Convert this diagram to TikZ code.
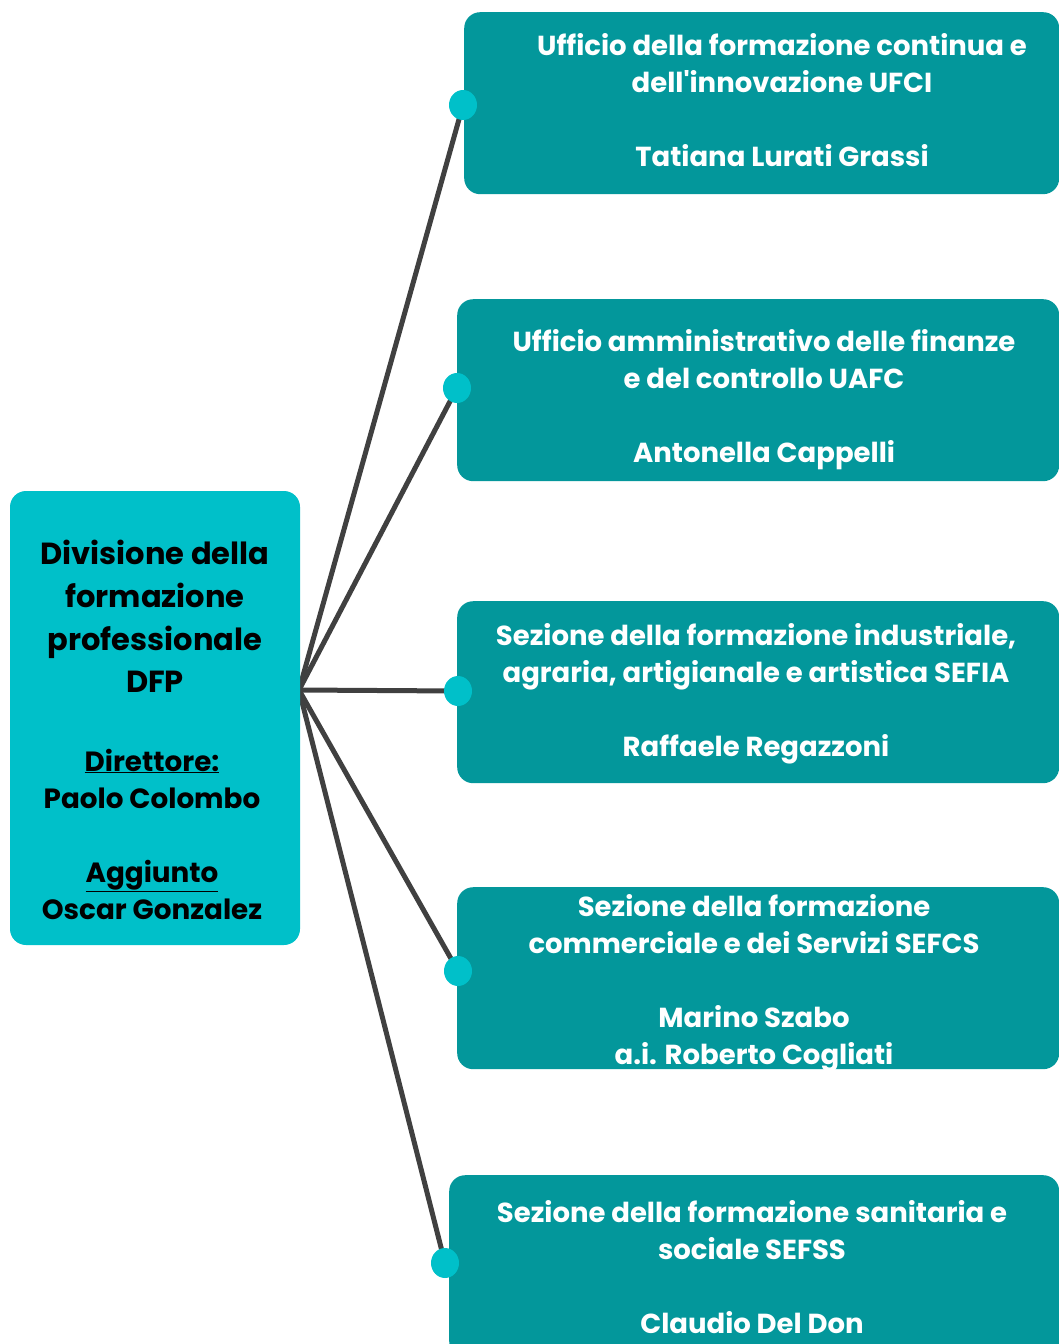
\documentclass[tikz,border=0pt]{standalone}
\usepackage{fontspec}
\newfontfamily\popfont{Poppins}
\usetikzlibrary{shapes.geometric,backgrounds}
\definecolor{cyanbox}{HTML}{00C0C9}
\definecolor{tealbox}{HTML}{03979B}
\definecolor{linegray}{HTML}{404040}
\tikzset{
  mainbox/.style={draw=none,fill=cyanbox,rounded corners=16pt,inner sep=0pt},
  unitbox/.style={draw=none,fill=tealbox,rounded corners=16pt,inner sep=0pt,minimum width=620pt,minimum height=182pt,anchor=north west},
  dot/.style={ellipse,fill=cyanbox,draw=none,minimum width=28pt,minimum height=30pt,inner sep=0pt},
  conn/.style={draw=linegray,line width=5pt},
  unittext/.style={text=white,font=\popfont\bfseries\fontsize{27.5}{37}\selectfont,align=center,inner sep=0pt},
  titletext/.style={text=black,font=\popfont\bfseries\fontsize{30.5}{42.7}\selectfont,align=center,inner sep=0pt},
  nametext/.style={text=black,font=\popfont\bfseries\fontsize{27.8}{37}\selectfont,align=center,inner sep=0pt}
}
\begin{document}
\begin{tikzpicture}[x=1pt,y=-1pt]
\useasboundingbox (0,0) rectangle (1059,1344);
\clip (0,0) rectangle (1059,1344);
% main box
\node[mainbox,minimum width=290pt,minimum height=454pt] (main) at (155,718) {};
\node[titletext] (maintitle) at (155,616.5) {Divisione della\\formazione\\professionale\\DFP};
\node[nametext] (mainnames) at (152,834) {\underline{Direttore:}\\Paolo Colombo\\[37pt]\underline{Aggiunto}\\Oscar Gonzalez};
% unit boxes
\node[unitbox,minimum width=595pt] (b1) at (464,12) {};
\node[unitbox,minimum width=602pt] (b2) at (457,299) {};
\node[unitbox,minimum width=602pt] (b3) at (457,601) {};
\node[unitbox,minimum width=602pt] (b4) at (457,887) {};
\node[unitbox,minimum width=610pt] (b5) at (449,1175) {};
% texts
\node[unittext] (t1) at (782,100) {Ufficio della formazione continua e\\dell'innovazione UFCI\\[37pt]Tatiana Lurati Grassi};
\node[unittext] (t2) at (764,399.5) {Ufficio amministrativo delle finanze\\e del controllo UAFC\\[37pt]Antonella Cappelli};
\node[unittext] (t3) at (756,694) {Sezione della formazione industriale,\\agraria, artigianale e artistica SEFIA\\[37pt]Raffaele Regazzoni};
\node[unittext] (t4) at (754,983.5) {Sezione della formazione\\commerciale e dei Servizi SEFCS\\[37pt]Marino Szabo\\a.i. Roberto Cogliati};
\node[unittext] (t5) at (752,1267.5) {Sezione della formazione sanitaria e\\sociale SEFSS\\[37pt]Claudio Del Don};
% dots
\node[dot] (d1) at (463,105) {};
\node[dot] (d2) at (457,388) {};
\node[dot] (d3) at (458,691) {};
\node[dot] (d4) at (458,971) {};
\node[dot] (d5) at (445,1263) {};
\coordinate (hub) at (299,690);
\begin{scope}[on background layer]
\draw[conn] (hub) -- (d1.center);
\draw[conn] (hub) -- (d2.center);
\draw[conn] (hub) -- (d3.center);
\draw[conn] (hub) -- (d4.center);
\draw[conn] (hub) -- (d5.center);
\end{scope}
\end{tikzpicture}
\end{document}
